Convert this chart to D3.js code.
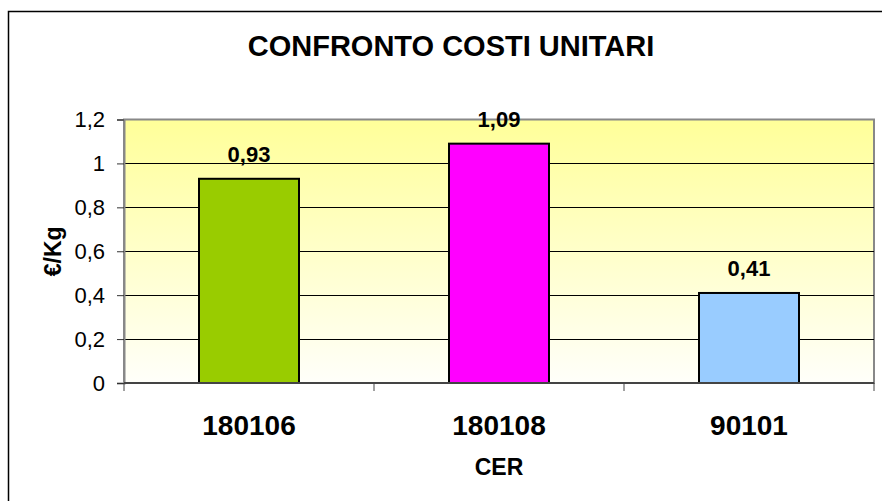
<!DOCTYPE html>
<html>
<head>
<meta charset="utf-8">
<script src="https://d3js.org/d3.v7.min.js"></script>
<style>
body { margin: 0; background: #fff; overflow: hidden; }
text { font-family: "Liberation Sans", Arial, sans-serif; }
</style>
</head>
<body>
<script>
var categories = ["180106", "180108", "90101"];
var values = [0.93, 1.09, 0.41];
var colors = ["#99CC00", "#FF00FF", "#99CCFF"];
var yTicks = [0, 0.2, 0.4, 0.6, 0.8, 1, 1.2];

var w = 882, h = 501;
var plotLeft = 124, plotRight = 874, plotTop = 119.5, plotBottom = 383;

var svg = d3.select("body").append("svg")
  .attr("width", w)
  .attr("height", h)
  .style("display", "block");

// background gradient
var grad = svg.append("defs").append("linearGradient")
  .attr("id", "bg")
  .attr("x1", 0).attr("y1", 0).attr("x2", 0).attr("y2", 1);
grad.append("stop").attr("offset", "0%").attr("stop-color", "#FFFF99");
grad.append("stop").attr("offset", "100%").attr("stop-color", "#FFFFFA");

// outer chart border (only top/left visible, rest is cropped)
svg.append("rect")
  .attr("x", 8.5).attr("y", 11.5)
  .attr("width", 1000).attr("height", 1000)
  .attr("fill", "none")
  .attr("stroke", "#000")
  .attr("stroke-width", 1.5);

var x = d3.scaleBand().domain(categories).range([plotLeft, plotRight]).paddingInner(0.6).paddingOuter(0.3);
var xb = d3.scaleBand().domain(categories).range([plotLeft, plotRight]);
var y = d3.scaleLinear().domain([0, 1.2]).range([plotBottom, plotTop]);

// plot area
svg.append("rect")
  .attr("x", plotLeft).attr("y", plotTop)
  .attr("width", plotRight - plotLeft).attr("height", plotBottom - plotTop)
  .attr("fill", "url(#bg)")
  .attr("stroke", "#888")
  .attr("stroke-width", 2);

// gridlines
svg.append("g").selectAll("line")
  .data(yTicks.filter(function(d) { return d > 0 && d < 1.2; }))
  .enter().append("line")
  .attr("x1", plotLeft).attr("x2", plotRight)
  .attr("y1", function(d) { return Math.round(y(d)) + 0.5; })
  .attr("y2", function(d) { return Math.round(y(d)) + 0.5; })
  .attr("stroke", "#000")
  .attr("stroke-width", 1);

// bars
svg.append("g").selectAll("rect")
  .data(values)
  .enter().append("rect")
  .attr("x", function(d, i) { return x(categories[i]); })
  .attr("y", function(d) { return y(d); })
  .attr("width", x.bandwidth())
  .attr("height", function(d) { return plotBottom - y(d); })
  .attr("fill", function(d, i) { return colors[i]; })
  .attr("stroke", "#000")
  .attr("stroke-width", 2);

// value labels
svg.append("g").selectAll("text")
  .data(values)
  .enter().append("text")
  .attr("x", function(d, i) { return x(categories[i]) + x.bandwidth() / 2; })
  .attr("y", function(d) { return y(d) - 17; })
  .attr("text-anchor", "middle")
  .attr("font-size", 22)
  .attr("font-weight", "bold")
  .text(function(d) { return String(d).replace(".", ","); });

// y axis
var yAxis = d3.axisLeft(y)
  .tickValues(yTicks)
  .tickSize(7)
  .tickPadding(12)
  .tickFormat(function(d) { return String(d).replace(".", ","); });
var gy = svg.append("g").attr("transform", "translate(" + plotLeft + ",0)").call(yAxis);
gy.select(".domain").attr("stroke", "#888").attr("stroke-width", 2);
gy.selectAll(".tick line").attr("stroke", "#333");
gy.selectAll("text").attr("font-size", 22).attr("font-family", "Liberation Sans, Arial, sans-serif").attr("fill", "#000");

// x axis line and ticks at category boundaries
svg.append("line")
  .attr("x1", plotLeft).attr("x2", plotRight)
  .attr("y1", plotBottom).attr("y2", plotBottom)
  .attr("stroke", "#444").attr("stroke-width", 2);
var bounds = categories.map(function(c) { return xb(c); }).concat([plotRight]);
svg.append("g").selectAll("line")
  .data(bounds)
  .enter().append("line")
  .attr("x1", function(d) { return d; }).attr("x2", function(d) { return d; })
  .attr("y1", plotBottom).attr("y2", plotBottom + 8)
  .attr("stroke", "#444").attr("stroke-width", 1);

// x category labels
svg.append("g").selectAll("text")
  .data(categories)
  .enter().append("text")
  .attr("x", function(d) { return xb(d) + xb.bandwidth() / 2; })
  .attr("y", 435)
  .attr("text-anchor", "middle")
  .attr("font-size", 28)
  .attr("font-weight", "bold")
  .text(function(d) { return d; });

// title
svg.append("text")
  .attr("x", 451).attr("y", 56)
  .attr("text-anchor", "middle")
  .attr("font-size", 29)
  .attr("font-weight", "bold")
  .text("CONFRONTO COSTI UNITARI");

// axis titles
svg.append("text")
  .attr("x", (plotLeft + plotRight) / 2).attr("y", 475)
  .attr("text-anchor", "middle")
  .attr("font-size", 23)
  .attr("font-weight", "bold")
  .text("CER");

svg.append("text")
  .attr("transform", "translate(61," + ((plotTop + plotBottom) / 2) + ") rotate(-90)")
  .attr("text-anchor", "middle")
  .attr("font-size", 23)
  .attr("font-weight", "bold")
  .text("€/Kg");
</script>
</body>
</html>
